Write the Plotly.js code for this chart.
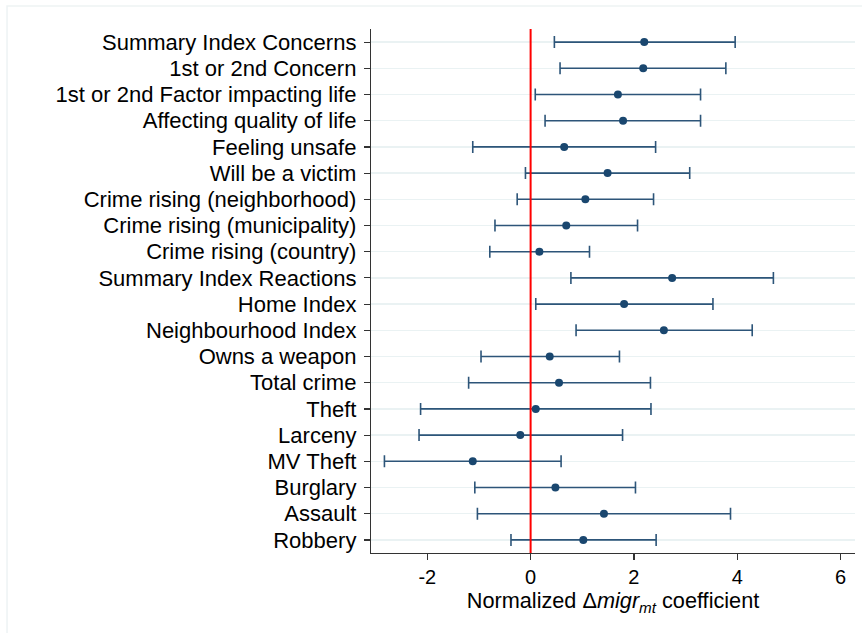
<!DOCTYPE html>
<html>
<head>
<meta charset="utf-8">
<script src="https://cdn.plot.ly/plotly-3.0.1.min.js"></script>
<style>
  html, body { margin: 0; padding: 0; background: #ffffff; }
  #chart { width: 862px; height: 633px; }
</style>
</head>
<body>
<div id="chart"></div>
<script>
const categories = [
  "Summary Index Concerns",
  "1st or 2nd Concern",
  "1st or 2nd Factor impacting life",
  "Affecting quality of life",
  "Feeling unsafe",
  "Will be a victim",
  "Crime rising (neighborhood)",
  "Crime rising (municipality)",
  "Crime rising (country)",
  "Summary Index Reactions",
  "Home Index",
  "Neighbourhood Index",
  "Owns a weapon",
  "Total crime",
  "Theft",
  "Larceny",
  "MV Theft",
  "Burglary",
  "Assault",
  "Robbery"
];
const estimates = [2.20, 2.18, 1.69, 1.79, 0.65, 1.49, 1.06, 0.69, 0.17, 2.74,
                   1.81, 2.58, 0.37, 0.55, 0.10, -0.20, -1.12, 0.48, 1.42, 1.02];
const ciLower  = [0.46, 0.57, 0.09, 0.28, -1.12, -0.10, -0.26, -0.69, -0.79, 0.78,
                  0.10, 0.88, -0.96, -1.20, -2.13, -2.16, -2.83, -1.08, -1.03, -0.38];
const ciUpper  = [3.96, 3.78, 3.29, 3.29, 2.42, 3.08, 2.38, 2.07, 1.14, 4.70,
                  3.53, 4.29, 1.72, 2.32, 2.33, 1.78, 0.59, 2.03, 3.87, 2.43];
const xTicks = [-2, 0, 2, 4, 6];

const plusErr = estimates.map((v, i) => ciUpper[i] - v);
const minusErr = estimates.map((v, i) => v - ciLower[i]);

const trace = {
  type: "scatter",
  mode: "markers",
  x: estimates,
  y: categories,
  marker: { color: "#1a476f", size: 8 },
  error_x: {
    type: "data",
    symmetric: false,
    array: plusErr,
    arrayminus: minusErr,
    color: "#2d5579",
    thickness: 1.6,
    width: 6
  },
  hoverinfo: "x+y",
  showlegend: false
};

const layout = {
  width: 862,
  height: 633,
  margin: { l: 371, r: 7, t: 29, b: 80 },
  paper_bgcolor: "#ffffff",
  plot_bgcolor: "#ffffff",
  font: { family: "Liberation Sans, Arial, Helvetica, sans-serif", color: "#000000" },
  xaxis: {
    range: [-3.09, 6.28],
    tickvals: xTicks,
    ticktext: xTicks.map(String),
    ticks: "outside",
    ticklen: 6,
    tickwidth: 1.2,
    tickcolor: "#333333",
    showline: true,
    linecolor: "#333333",
    linewidth: 1.2,
    showgrid: false,
    zeroline: false,
    tickfont: { size: 20 },
    title: {
      text: "Normalized Δ<i>migr</i><sub><i>mt</i></sub> coefficient",
      font: { size: 21.7 },
      standoff: 4
    }
  },
  yaxis: {
    type: "category",
    categoryorder: "array",
    categoryarray: categories,
    range: [19.5, -0.5],
    ticks: "outside",
    ticklen: 6,
    tickwidth: 1.2,
    tickcolor: "#333333",
    showline: true,
    linecolor: "#333333",
    linewidth: 1.2,
    showgrid: true,
    gridcolor: "#eaf2f3",
    gridwidth: 1.5,
    zeroline: false,
    tickfont: { size: 22 },
    ticklabelstandoff: 3
  },
  shapes: [
    {
      type: "line", xref: "x", yref: "paper",
      x0: 0, x1: 0, y0: 0, y1: 1,
      line: { color: "#ff0000", width: 2 }
    },
    {
      type: "rect", xref: "paper", yref: "paper",
      x0: -0.752, x1: 1.2, y0: -0.3, y1: 1.044,
      line: { color: "#eef3f4", width: 1.5 },
      fillcolor: "rgba(0,0,0,0)",
      layer: "below"
    }
  ]
};

Plotly.newPlot("chart", [trace], layout, { displayModeBar: false, staticPlot: true });
</script>
</body>
</html>
